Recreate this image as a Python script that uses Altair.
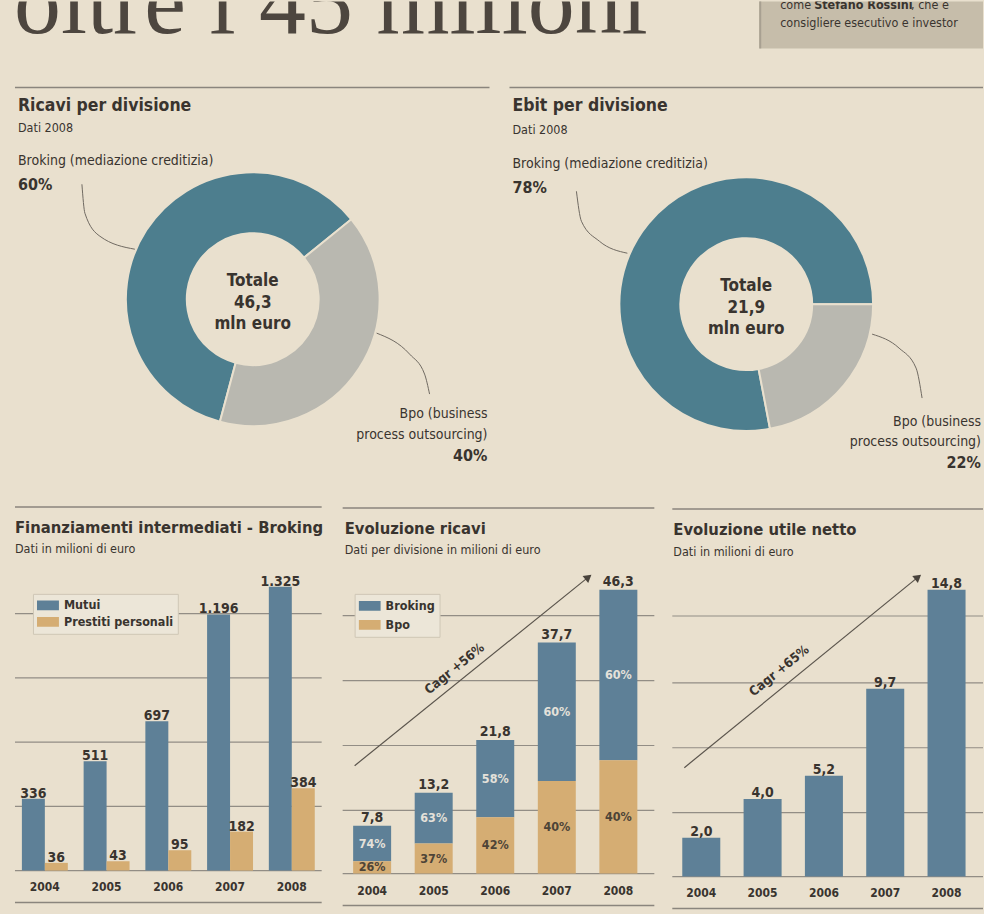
import math
import altair as alt
import pandas as pd

# ---------------- data ----------------
headline = "oltre i 45 milioni"
box_line1 = ["come ", "Stefano Rossini", ", che è"]
box_line2 = "consigliere esecutivo e investor"

divisions = ["Broking", "Bpo"]
ricavi_div_share = [60, 40]
ebit_div_share = [78, 22]
ricavi_div_title = "Ricavi per divisione"
ebit_div_title = "Ebit per divisione"
donut_subtitle = "Dati 2008"
ricavi_center = ["Totale", "46,3", "mln euro"]
ebit_center = ["Totale", "21,9", "mln euro"]
broking_label = "Broking (mediazione creditizia)"
bpo_label = ["Bpo (business", "process outsourcing)"]
ricavi_pct_text = ["60%", "40%"]
ebit_pct_text = ["78%", "22%"]

years = ["2004", "2005", "2006", "2007", "2008"]

fin_title = "Finanziamenti intermediati - Broking"
fin_subtitle = "Dati in milioni di euro"
fin_series = ["Mutui", "Prestiti personali"]
mutui = [336, 511, 697, 1196, 1325]
prestiti = [36, 43, 95, 182, 384]
mutui_labels = ["336", "511", "697", "1.196", "1.325"]
prestiti_labels = ["36", "43", "95", "182", "384"]
fin_grid = [0, 300, 600, 900, 1200]

ric_title = "Evoluzione ricavi"
ric_subtitle = "Dati per divisione in milioni di euro"
ricavi_broking = [5.8, 8.3, 12.6, 22.6, 27.8]
ricavi_bpo = [2.0, 4.9, 9.2, 15.1, 18.5]
ricavi_totals = [7.8, 13.2, 21.8, 37.7, 46.3]
ricavi_total_labels = ["7,8", "13,2", "21,8", "37,7", "46,3"]
broking_pct_labels = ["74%", "63%", "58%", "60%", "60%"]
bpo_pct_labels = ["26%", "37%", "42%", "40%", "40%"]
ric_grid = [0, 10.3, 20.9, 31.5, 42.1]
ric_cagr = "Cagr +56%"

ut_title = "Evoluzione utile netto"
ut_subtitle = "Dati in milioni di euro"
utile = [2.0, 4.0, 5.2, 9.7, 14.8]
utile_labels = ["2,0", "4,0", "5,2", "9,7", "14,8"]
ut_grid = [0, 3.3, 6.65, 10.0, 13.45]
ut_cagr = "Cagr +65%"

# ---------------- style ----------------
BG = "#e9e0ce"
INK = "#39342f"
BLUE = "#5e8097"
ORANGE = "#d5ad73"
TEAL = "#4d7e8e"
GREY = "#b9b8b0"
RULE = "#8a857d"
GRID = "#928d85"
LEAD = "#6f6961"
FONT = "DejaVu Sans Condensed, Roboto, sans-serif"
SERIF = "Liberation Serif, DejaVu Serif, serif"

EMPTY = alt.Data(values=[{}])


def txt(s, x, y, size=15, bold=False, align="left", color=INK, font=FONT,
        clip=False, angle=None, baseline="alphabetic"):
    kw = dict(text=s, fontSize=size, fontWeight="bold" if bold else "normal",
              align=align, baseline=baseline, color=color, font=font)
    if clip:
        kw["clip"] = True
    if angle is not None:
        kw["angle"] = angle
    return alt.Chart(EMPTY).mark_text(**kw).encode(x=alt.value(x), y=alt.value(y))


def hrule(x1, x2, y, color=RULE, w=1.5):
    return alt.Chart(EMPTY).mark_rule(color=color, strokeWidth=w).encode(
        x=alt.value(x1), x2=alt.value(x2), y=alt.value(y))


def leg(x, y, clip_h, row_pad):
    return alt.Legend(
        orient="none", legendX=x, legendY=y, title=None, direction="vertical",
        symbolType="M-1,-0.45H1V0.45H-1Z", symbolSize=484, symbolStrokeWidth=0,
        symbolOpacity=1, clipHeight=clip_h, rowPadding=row_pad, padding=4,
        labelFont=FONT, labelFontSize=12.5, labelFontWeight="bold", labelColor=INK,
        labelOffset=5, fillColor="#ece6d8", strokeColor="#cfc7b6", cornerRadius=0)


# ---------------- header ----------------
HDR_H = 88
header = alt.layer(
    txt(headline, 14, 32, size=94, font=SERIF, color="#4d463f", clip=True),
    alt.Chart(EMPTY).mark_rect(color="#c6bdaa").encode(
        x=alt.value(760), x2=alt.value(984), y=alt.value(0), y2=alt.value(47)),
    alt.Chart(EMPTY).mark_rule(color="#a8a091", strokeWidth=2).encode(
        x=alt.value(761), y=alt.value(0), y2=alt.value(47)),
    txt(box_line1[0], 781, 8, 12.5, clip=True),
    txt(box_line1[1], 815, 8, 12.5, bold=True, clip=True),
    txt(box_line1[2], 912, 8, 12.5, clip=True),
    txt(box_line2, 781, 26, 12.5),
    hrule(15, 490, 86),
    hrule(510, 984, 86),
).properties(width=984, height=HDR_H)


# ---------------- donuts ----------------
def donut(width, title_x, title, shares, pct_text, center_lines, cx, cy, start_deg,
          lab_y, lead1, lead2, bpo_x, bpo_y):
    df = pd.DataFrame({"div": divisions, "share": shares, "ord": [1, 0]})
    start = math.radians(start_deg)
    ring = alt.Chart(df).mark_arc(innerRadius=66, outerRadius=127, stroke=BG,
                                  strokeWidth=2).encode(
        theta=alt.Theta("share:Q", stack=True,
                        scale=alt.Scale(range=[start, start + 2 * math.pi])),
        color=alt.Color("div:N", scale=alt.Scale(domain=divisions, range=[TEAL, GREY]),
                        legend=None),
        order=alt.Order("ord:Q"),
        x=alt.value(cx), y=alt.value(cy),
    )
    lines = []
    for pts in [lead1, lead2]:
        ldf = pd.DataFrame({"x": [p[0] for p in pts], "y": [p[1] for p in pts],
                            "i": list(range(len(pts)))})
        lines.append(alt.Chart(ldf).mark_line(color=LEAD, strokeWidth=1,
                                              interpolate="monotone").encode(
            x=alt.X("x:Q", scale=None), y=alt.Y("y:Q", scale=None), order="i:Q"))
    layers = [
        ring, *lines,
        txt(title, title_x, 22, 17.5, bold=True),
        txt(donut_subtitle, title_x, lab_y[0], 12.5),
        txt(broking_label, title_x, lab_y[1], 14),
        txt(pct_text[0], title_x, lab_y[2], 16, bold=True),
        txt(center_lines[0], cx, cy - 13, 17, bold=True, align="center"),
        txt(center_lines[1], cx, cy + 9, 17, bold=True, align="center"),
        txt(center_lines[2], cx, cy + 30, 17, bold=True, align="center"),
        txt(bpo_label[0], bpo_x, bpo_y[0], 14, align="right"),
        txt(bpo_label[1], bpo_x, bpo_y[1], 14, align="right"),
        txt(pct_text[1], bpo_x, bpo_y[2], 16, bold=True, align="right"),
    ]
    return alt.layer(*layers).properties(width=width, height=505 - HDR_H)


d1 = donut(500, 18, ricavi_div_title, ricavi_div_share, ricavi_pct_text, ricavi_center,
           253, 210, 51, [43, 76, 101],
           [(82, 95), (85, 124), (100, 147), (135, 160)],
           [(377, 244), (410, 265), (425, 285), (430, 305)],
           488, [329, 350, 372])
d2 = donut(484, 13, ebit_div_title, ebit_div_share, ebit_pct_text, ebit_center,
           247, 215, 90, [45, 79, 104],
           [(77, 102), (82, 132), (100, 152), (128, 164)],
           [(373, 245), (400, 259), (417, 279), (423, 309)],
           482, [337, 357, 379])

row1 = alt.hconcat(d1, d2, spacing=0, bounds="flush").resolve_scale(
    color="independent", theta="independent")

# ---------------- bar panels ----------------
ROW2_H = 914 - 505
VAL = 14      # value label size
YEAR = 12     # year label size
PCT = 12.5    # percent label size
TITLE = 16.5
SUB = 12.5

# Panel 1: grouped bars
fin_df = pd.DataFrame({
    "year": years * 2,
    "serie": [fin_series[0]] * 5 + [fin_series[1]] * 5,
    "value": mutui + prestiti,
    "label": mutui_labels + prestiti_labels,
})
x1 = alt.X("year:N", scale=alt.Scale(domain=years, range=[14, 323],
                                     paddingInner=0.256, paddingOuter=0.128), axis=None)
ys1 = alt.Scale(domain=[0, 1325], range=[365, 81], nice=False)
xo1 = alt.XOffset("serie:N", scale=alt.Scale(domain=fin_series))
p1 = alt.layer(
    alt.Chart(pd.DataFrame({"g": fin_grid})).mark_rule(color=GRID, strokeWidth=1.2).encode(
        y=alt.Y("g:Q", scale=ys1, axis=None), x=alt.value(15), x2=alt.value(322)),
    alt.Chart(fin_df).mark_bar().encode(
        x=x1, xOffset=xo1, y=alt.Y("value:Q", scale=ys1, axis=None),
        color=alt.Color("serie:N", scale=alt.Scale(domain=fin_series, range=[BLUE, ORANGE]),
                        legend=leg(33, 88, 15, 1.5))),
    alt.Chart(fin_df).mark_text(dy=-5, fontSize=VAL, fontWeight="bold", font=FONT,
                                color=INK).encode(
        x=x1, xOffset=xo1, y=alt.Y("value:Q", scale=ys1, axis=None), text="label:N"),
    alt.Chart(pd.DataFrame({"year": years})).mark_text(
        fontSize=YEAR, fontWeight="bold", font=FONT, color=INK).encode(
        x=x1, y=alt.value(381), text="year:N"),
    hrule(15, 322, 1), hrule(15, 322, 397),
    txt(fin_title, 15, 27, TITLE, bold=True),
    txt(fin_subtitle, 15, 47, SUB),
).properties(width=330, height=ROW2_H)

# Panel 2: stacked bars
ric_df = pd.DataFrame({
    "year": years * 2,
    "div": [divisions[0]] * 5 + [divisions[1]] * 5,
    "value": ricavi_broking + ricavi_bpo,
    "pct": broking_pct_labels + bpo_pct_labels,
    "ord": [1] * 5 + [0] * 5,
})
ric_tot = pd.DataFrame({"year": years, "total": ricavi_totals, "label": ricavi_total_labels})
x2 = alt.X("year:N", scale=alt.Scale(domain=years, range=[11.7, 319.8],
                                     paddingInner=0.383, paddingOuter=0.1915), axis=None)
ys2 = alt.Scale(domain=[0, 46.3], range=[368, 84], nice=False)
p2 = alt.layer(
    alt.Chart(pd.DataFrame({"g": ric_grid})).mark_rule(color=GRID, strokeWidth=1.2).encode(
        y=alt.Y("g:Q", scale=ys2, axis=None), x=alt.value(13), x2=alt.value(325)),
    alt.Chart(EMPTY).mark_rule(color="#5a544c", strokeWidth=1.2).encode(
        x=alt.value(25), y=alt.value(260), x2=alt.value(258), y2=alt.value(72)),
    alt.Chart(EMPTY).mark_point(shape="triangle", filled=True, size=80, angle=51,
                                color="#4a443d", opacity=1).encode(
        x=alt.value(258), y=alt.value(72)),
    alt.Chart(ric_df).mark_bar().encode(
        x=x2, y=alt.Y("value:Q", stack="zero", scale=ys2, axis=None),
        color=alt.Color("div:N", scale=alt.Scale(domain=divisions, range=[BLUE, ORANGE]),
                        legend=leg(25, 88, 16, 3)),
        order=alt.Order("ord:Q")),
    alt.Chart(ric_df).transform_stack(
        stack="value", groupby=["year"], as_=["v0", "v1"],
        sort=[alt.SortField("ord", order="ascending")]
    ).transform_calculate(mid="(datum.v0 + datum.v1) / 2").mark_text(
        fontSize=PCT, fontWeight="bold", font=FONT, baseline="middle").encode(
        x=x2, y=alt.Y("mid:Q", scale=ys2, axis=None), text="pct:N",
        color=alt.condition("datum.div == 'Broking'", alt.value("#e4e1da"),
                            alt.value("#4e4437"))),
    alt.Chart(ric_tot).mark_text(dy=-8, fontSize=VAL, fontWeight="bold", font=FONT,
                                 color=INK).encode(
        x=x2, y=alt.Y("total:Q", scale=ys2, axis=None), text="label:N"),
    alt.Chart(pd.DataFrame({"year": years})).mark_text(
        fontSize=YEAR, fontWeight="bold", font=FONT, color=INK).encode(
        x=x2, y=alt.value(385), text="year:N"),
    txt(ric_cagr, 125, 163, 13, bold=True, align="center", baseline="middle", angle=321),
    hrule(13, 325, 2), hrule(13, 325, 400),
    txt(ric_title, 15, 28, TITLE, bold=True),
    txt(ric_subtitle, 15, 48, SUB),
).properties(width=330, height=ROW2_H)

# Panel 3: simple bars
ut_df = pd.DataFrame({"year": years, "value": utile, "label": utile_labels})
x3 = alt.X("year:N", scale=alt.Scale(domain=years, range=[11.3, 318.2],
                                     paddingInner=0.38, paddingOuter=0.19), axis=None)
ys3 = alt.Scale(domain=[0, 14.8], range=[371, 84], nice=False)
p3 = alt.layer(
    alt.Chart(pd.DataFrame({"g": ut_grid})).mark_rule(color=GRID, strokeWidth=1.2).encode(
        y=alt.Y("g:Q", scale=ys3, axis=None), x=alt.value(13), x2=alt.value(324)),
    alt.Chart(EMPTY).mark_rule(color="#5a544c", strokeWidth=1.2).encode(
        x=alt.value(25), y=alt.value(262), x2=alt.value(258), y2=alt.value(72)),
    alt.Chart(EMPTY).mark_point(shape="triangle", filled=True, size=80, angle=51,
                                color="#4a443d", opacity=1).encode(
        x=alt.value(258), y=alt.value(72)),
    alt.Chart(ut_df).mark_bar(color=BLUE).encode(
        x=x3, y=alt.Y("value:Q", scale=ys3, axis=None)),
    alt.Chart(ut_df).mark_text(dy=-6, fontSize=VAL, fontWeight="bold", font=FONT,
                               color=INK).encode(
        x=x3, y=alt.Y("value:Q", scale=ys3, axis=None), text="label:N"),
    alt.Chart(pd.DataFrame({"year": years})).mark_text(
        fontSize=YEAR, fontWeight="bold", font=FONT, color=INK).encode(
        x=x3, y=alt.value(387), text="year:N"),
    txt(ut_cagr, 120, 165, 13, bold=True, align="center", baseline="middle", angle=321),
    hrule(13, 324, 3), hrule(13, 324, 403),
    txt(ut_title, 14, 29, TITLE, bold=True),
    txt(ut_subtitle, 14, 50, SUB),
).properties(width=324, height=ROW2_H)

row2 = alt.hconcat(p1, p2, p3, spacing=0, bounds="flush").resolve_scale(
    x="independent", y="independent", color="independent").resolve_legend(
    color="independent")

chart = alt.vconcat(header, row1, row2, spacing=0).resolve_scale(
    color="independent", theta="independent", x="independent", y="independent"
).resolve_legend(color="independent").properties(
    padding=0, background=BG
).configure_view(stroke=None)

chart.save("out.html", embed_options={"renderer": "svg", "actions": False})
